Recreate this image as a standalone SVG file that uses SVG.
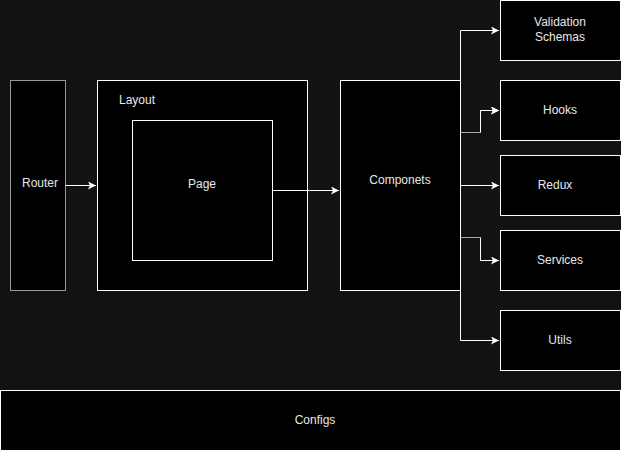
<svg xmlns="http://www.w3.org/2000/svg" width="621" height="451" viewBox="0 0 621 451">
<defs>
<marker id="arr" markerWidth="10" markerHeight="10" refX="8" refY="4" orient="auto" markerUnits="userSpaceOnUse">
<path d="M0,0 L8,4 L0,8 L2,4 Z" fill="#ffffff"/>
</marker>
<style>
.box{fill:#000000;stroke:#ffffff;stroke-width:1}
.t{font-family:"Liberation Sans",Arial,sans-serif;font-size:12px;fill:#e8e8e8;text-anchor:middle;dominant-baseline:central}
.c{fill:none;stroke:#ffffff;stroke-width:1}
</style>
</defs>
<rect x="0" y="0" width="621" height="451" fill="#121212"/>
<g id="router"><rect class="box" x="10.5" y="80.5" width="55" height="210" style="stroke:#999999"/><text class="t" x="40" y="183">Router</text></g>
<g id="layout"><rect class="box" x="97.5" y="80.5" width="210" height="210"/><text class="t" x="137" y="100">Layout</text></g>
<g id="page"><rect class="box" x="132.5" y="120.5" width="140" height="140"/><text class="t" x="202" y="184">Page</text></g>
<g id="componets"><rect class="box" x="340.5" y="80.5" width="120" height="210"/><text class="t" x="400" y="180">Componets</text></g>
<g id="validation"><rect class="box" x="500.5" y="0.5" width="120" height="60"/><text class="t" x="560" y="22">Validation</text><text class="t" x="560" y="37">Schemas</text></g>
<g id="hooks"><rect class="box" x="500.5" y="80.5" width="120" height="60"/><text class="t" x="560" y="110">Hooks</text></g>
<g id="redux"><rect class="box" x="500.5" y="155.5" width="120" height="60"/><text class="t" x="555" y="185">Redux</text></g>
<g id="services"><rect class="box" x="500.5" y="230.5" width="120" height="60"/><text class="t" x="560" y="260">Services</text></g>
<g id="utils"><rect class="box" x="500.5" y="310.5" width="120" height="60"/><text class="t" x="560" y="340">Utils</text></g>
<g id="configs"><rect class="box" x="0.5" y="390.5" width="620" height="60"/><text class="t" x="315" y="420">Configs</text></g>
<g id="connectors">
<path class="c" d="M65.5,185.5 H96" marker-end="url(#arr)"/>
<path class="c" d="M272.5,190.5 H339" marker-end="url(#arr)"/>
<path class="c" d="M460.5,185.5 V30.5 H499" marker-end="url(#arr)"/>
<path class="c" d="M460.5,132.5 H480.5 V110.5 H499" marker-end="url(#arr)" style="stroke:#aaaaaa"/>
<path class="c" d="M480.5,132.5 V110.5 H499" marker-end="url(#arr)"/>
<path class="c" d="M460.5,185.5 H499" marker-end="url(#arr)"/>
<path class="c" d="M460.5,237.5 H480.5" style="stroke:#aaaaaa"/>
<path class="c" d="M480.5,237.5 V260.5 H499" marker-end="url(#arr)"/>
<path class="c" d="M460.5,185.5 V340.5 H499" marker-end="url(#arr)"/>
</g>
</svg>
